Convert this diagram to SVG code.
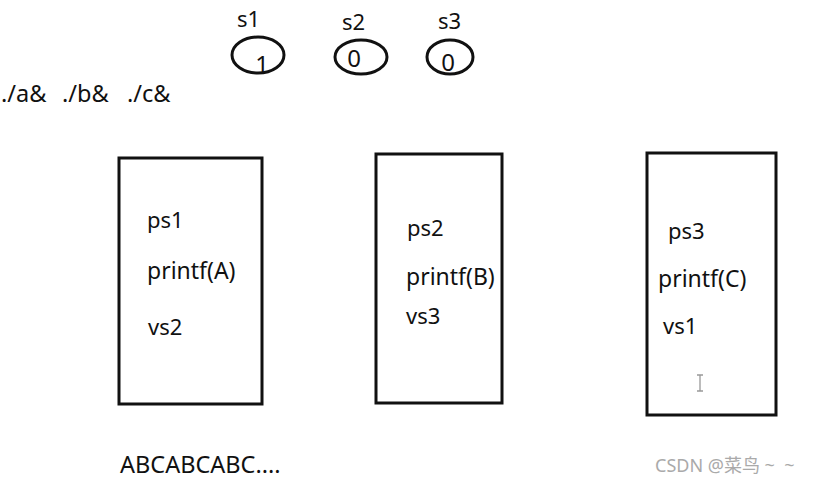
<svg xmlns="http://www.w3.org/2000/svg" width="817" height="483" viewBox="0 0 817 483">
<style>
text { font-family: "Noto Sans", "Open Sans", "Noto Sans CJK SC", sans-serif; fill: #111; }
.t { font-size: 22px; }
.p { font-size: 23px; }
.c { font-size: 23.5px; }
.n { font-size: 24px; text-anchor: middle; }
.box { fill: #fff; stroke: #111; stroke-width: 3; }
.ell { fill: none; stroke: #111; stroke-width: 3; }
.wm { font-size: 18px; fill: #aaa; }
</style>
<rect width="817" height="483" fill="#fff"/>
<g id="labels">
  <text class="c" x="1" y="102">./a&amp;</text>
  <text class="c" x="62" y="102">./b&amp;</text>
  <text class="c" x="127" y="102">./c&amp;</text>
  <text class="c" x="120" y="473">ABCABCABC....</text>
</g>
<g id="sem-s1">
  <text class="t" x="237" y="27">s1</text>
  <ellipse class="ell" cx="258" cy="55" rx="26" ry="18"/>
  <text class="n" x="262" y="73">1</text>
</g>
<g id="sem-s2">
  <text class="t" x="342" y="30">s2</text>
  <ellipse class="ell" cx="361" cy="57" rx="26" ry="17"/>
  <text class="n" x="354" y="67">0</text>
</g>
<g id="sem-s3">
  <text class="t" x="438" y="29">s3</text>
  <ellipse class="ell" cx="450" cy="57" rx="23" ry="17"/>
  <text class="n" x="448" y="71">0</text>
</g>
<g id="proc-a">
  <rect class="box" x="119" y="158" width="143" height="246"/>
  <text class="t" x="147" y="228">ps1</text>
  <text class="p" x="147" y="279">printf(A)</text>
  <text class="t" x="148" y="335">vs2</text>
</g>
<g id="proc-b">
  <rect class="box" x="376" y="154" width="126" height="249"/>
  <text class="t" x="407" y="236">ps2</text>
  <text class="p" x="406" y="285">printf(B)</text>
  <text class="t" x="406" y="324">vs3</text>
</g>
<g id="proc-c">
  <rect class="box" x="647" y="153" width="129" height="262"/>
  <text class="t" x="668" y="239">ps3</text>
  <text class="p" x="658" y="287">printf(C)</text>
  <text class="t" x="663" y="334">vs1</text>
  <path d="M697 375h6M700 375v16M697 391h6" stroke="#999" stroke-width="1.3" fill="none"/>
</g>
<g id="connectors"></g>
<text class="wm" x="655" y="472" xml:space="preserve">CSDN @菜鸟 ~  ~</text>
</svg>
